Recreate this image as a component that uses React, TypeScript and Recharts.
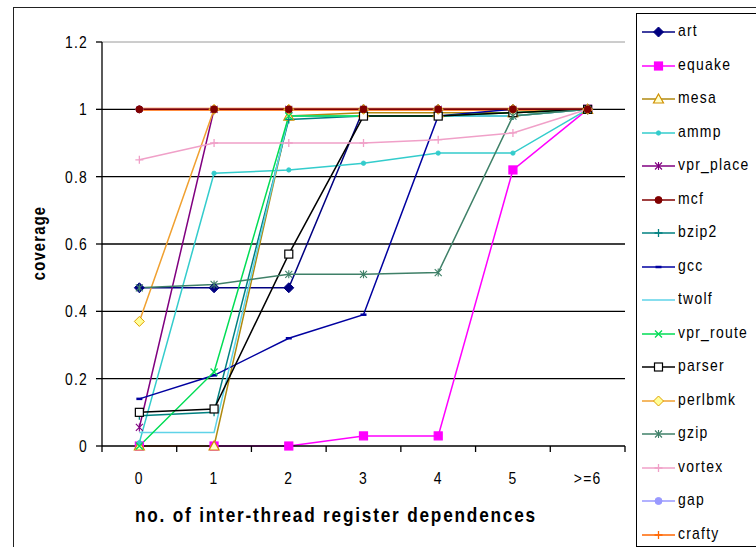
import React from 'react';
import { LineChart, Line, XAxis, YAxis, CartesianGrid, ReferenceLine, Legend } from 'recharts';

// Number of inter-thread register dependences
const categories = ['0', '1', '2', '3', '4', '5', '>=6'];

// Coverage per benchmark
const art = [0.47, 0.47, 0.47, 1.0, 1.0, 1.0, 1.0];
const equake = [0, 0, 0, 0.03, 0.03, 0.82, 1.0];
const mesa = [0, 0, 0.98, 0.99, 0.99, 0.99, 1.0];
const ammp = [0.01, 0.81, 0.82, 0.84, 0.87, 0.87, 1.0];
const vprPlace = [0.055, 1.0, 1.0, 1.0, 1.0, 1.0, 1.0];
const mcf = [1.0, 1.0, 1.0, 1.0, 1.0, 1.0, 1.0];
const bzip2 = [0.09, 0.1, 0.97, 0.98, 0.98, 0.98, 1.0];
const gcc = [0.14, 0.21, 0.32, 0.39, 0.98, 1.0, 1.0];
const twolf = [0.04, 0.04, 0.98, 0.98, 0.98, 0.98, 1.0];
const vprRoute = [0, 0.22, 0.98, 0.98, 0.98, 0.99, 1.0];
const parser = [0.1, 0.11, 0.57, 0.98, 0.98, 0.99, 1.0];
const perlbmk = [0.37, 1.0, 1.0, 1.0, 1.0, 1.0, 1.0];
const gzip = [0.47, 0.48, 0.51, 0.51, 0.515, 0.98, 1.0];
const vortex = [0.85, 0.9, 0.9, 0.9, 0.91, 0.93, 1.0];
const gap = [1.0, 1.0, 1.0, 1.0, 1.0, 1.0, 1.0];
const crafty = [1.0, 1.0, 1.0, 1.0, 1.0, 1.0, 1.0];

const yTicks = [0, 0.2, 0.4, 0.6, 0.8, 1, 1.2];
const gridValues = [0.2, 0.4, 0.6, 0.8, 1];

const xTitle = 'no. of inter-thread register dependences';
const yTitle = 'coverage';

type MarkerKind = 'diamond' | 'square' | 'triangle' | 'dot' | 'asterisk' | 'circle' | 'plus' | 'dash' | 'none' | 'cross';

interface SeriesDef {
  name: string;
  values: number[];
  color: string;
  marker: MarkerKind;
  markerStroke?: string;
  markerFill?: string;
  width?: number;
}

const series: SeriesDef[] = [
  { name: 'art', values: art, color: '#000080', marker: 'diamond', markerFill: '#000080' },
  { name: 'equake', values: equake, color: '#FF00FF', marker: 'square', markerFill: '#FF00FF' },
  { name: 'mesa', values: mesa, color: '#B08A10', marker: 'triangle', markerStroke: '#D09000', markerFill: '#FFFFCC' },
  { name: 'ammp', values: ammp, color: '#33CCCC', marker: 'dot', markerFill: '#33CCCC' },
  { name: 'vpr_place', values: vprPlace, color: '#800080', marker: 'asterisk' },
  { name: 'mcf', values: mcf, color: '#800000', marker: 'circle', markerFill: '#800000' },
  { name: 'bzip2', values: bzip2, color: '#008080', marker: 'plus' },
  { name: 'gcc', values: gcc, color: '#0000A0', marker: 'dash' },
  { name: 'twolf', values: twolf, color: '#5FD3E8', marker: 'none' },
  { name: 'vpr_route', values: vprRoute, color: '#00DD55', marker: 'cross' },
  { name: 'parser', values: parser, color: '#000000', marker: 'square', markerStroke: '#000000', markerFill: '#FFFFFF' },
  { name: 'perlbmk', values: perlbmk, color: '#F0A030', marker: 'diamond', markerStroke: '#E0A000', markerFill: '#FFFF99' },
  { name: 'gzip', values: gzip, color: '#3F8068', marker: 'asterisk' },
  { name: 'vortex', values: vortex, color: '#F0A0C8', marker: 'plus' },
  { name: 'gap', values: gap, color: '#9999FF', marker: 'circle', markerFill: '#9999FF' },
  { name: 'crafty', values: crafty, color: '#FF6600', marker: 'plus', width: 3 },
];

// Paint order: the flat 1.0 series underneath, mcf on top of them
const drawOrder = ['crafty', 'gap', 'art', 'equake', 'mesa', 'ammp', 'vpr_place', 'bzip2', 'gcc', 'twolf',
  'vpr_route', 'parser', 'perlbmk', 'gzip', 'vortex', 'mcf'];

const data = categories.map((cat, i) => {
  const row: Record<string, string | number> = { cat };
  series.forEach((s) => {
    row[s.name] = s.values[i];
  });
  return row;
});

const FONT = "'Liberation Sans', Arial, sans-serif";
const NARROW = 0.82;

// plot geometry
const CHART_W = 756;
const CHART_H = 547;
const MARGIN = { top: 42, right: 131, bottom: 41, left: 42 };
const Y_AXIS_W = 60;
const PLOT_W = CHART_W - MARGIN.left - MARGIN.right - Y_AXIS_W;
const HALF_BAND = PLOT_W / categories.length / 2;

function Marker({ kind, cx, cy, stroke, fill }: { kind: MarkerKind; cx: number; cy: number; stroke: string; fill?: string }) {
  switch (kind) {
    case 'diamond':
      return <polygon points={`${cx},${cy - 5} ${cx + 5},${cy} ${cx},${cy + 5} ${cx - 5},${cy}`} fill={fill ?? stroke} stroke={stroke} strokeWidth={1} />;
    case 'square':
      return <rect x={cx - 4} y={cy - 4} width={8} height={8} fill={fill ?? stroke} stroke={stroke} strokeWidth={1.2} />;
    case 'triangle':
      return <polygon points={`${cx},${cy - 5} ${cx + 5},${cy + 4} ${cx - 5},${cy + 4}`} fill={fill ?? 'none'} stroke={stroke} strokeWidth={1.2} />;
    case 'dot':
      return <circle cx={cx} cy={cy} r={2.2} fill={fill ?? stroke} stroke={stroke} strokeWidth={0.8} />;
    case 'circle':
      return <circle cx={cx} cy={cy} r={3.5} fill={fill ?? stroke} stroke={stroke} strokeWidth={1} />;
    case 'plus':
      return <path d={`M${cx - 4},${cy}H${cx + 4}M${cx},${cy - 4}V${cy + 4}`} stroke={stroke} strokeWidth={1.3} fill="none" />;
    case 'cross':
      return <path d={`M${cx - 3.5},${cy - 3.5}L${cx + 3.5},${cy + 3.5}M${cx - 3.5},${cy + 3.5}L${cx + 3.5},${cy - 3.5}`} stroke={stroke} strokeWidth={1.3} fill="none" />;
    case 'asterisk':
      return <path d={`M${cx - 3.5},${cy - 3.5}L${cx + 3.5},${cy + 3.5}M${cx - 3.5},${cy + 3.5}L${cx + 3.5},${cy - 3.5}M${cx},${cy - 4}V${cy + 4}`} stroke={stroke} strokeWidth={1.1} fill="none" />;
    case 'dash':
      return <path d={`M${cx - 3},${cy}H${cx + 3}`} stroke={stroke} strokeWidth={2.5} fill="none" />;
    default:
      return null;
  }
}

function XTick(props: any) {
  const { x, y, payload, index, visibleTicksCount } = props;
  const top = y - 6;
  const last = index === visibleTicksCount - 1;
  return (
    <g>
      <line x1={x - HALF_BAND} y1={top} x2={x - HALF_BAND} y2={top + 6} stroke="#000" strokeWidth={1.3} />
      {last && <line x1={x + HALF_BAND} y1={top} x2={x + HALF_BAND} y2={top + 6} stroke="#000" strokeWidth={1.3} />}
      <text
        transform={`translate(${x},${top + 38}) scale(${NARROW},1)`}
        textAnchor="middle"
        fontFamily={FONT}
        fontSize={17}
        letterSpacing={1.5}
        fill="#000"
      >
        {payload.value}
      </text>
    </g>
  );
}

function YTick(props: any) {
  const { x, y, payload } = props;
  return (
    <text
      transform={`translate(${x},${y + 6}) scale(${NARROW},1)`}
      textAnchor="end"
      fontFamily={FONT}
      fontSize={17}
      letterSpacing={1.5}
      fill="#000"
    >
      {String(payload.value)}
    </text>
  );
}

function LegendBox() {
  return (
    <div
      style={{
        position: 'relative',
        width: 140,
        height: 534,
        border: '1px solid #000',
        boxSizing: 'border-box',
        background: '#fff',
      }}
    >
      {series.map((s, i) => {
        const cy = 18 + i * 33.5;
        return (
          <div key={s.name} style={{ position: 'absolute', left: 0, top: cy - 12, height: 24, width: 140 }}>
            <svg width={42} height={24} style={{ position: 'absolute', left: 0, top: 0 }}>
              <line x1={5} y1={12} x2={38} y2={12} stroke={s.color} strokeWidth={1.5} />
              <Marker kind={s.marker} cx={21.5} cy={12} stroke={s.markerStroke ?? s.color} fill={s.markerFill} />
            </svg>
            <span
              style={{
                position: 'absolute',
                left: 41,
                top: 0,
                display: 'inline-block',
                transform: `scaleX(${NARROW})`,
                transformOrigin: '0 50%',
                fontFamily: FONT,
                fontSize: 17,
                letterSpacing: 1.5,
                lineHeight: '22px',
                color: '#000',
                whiteSpace: 'nowrap',
              }}
            >
              {s.name}
            </span>
          </div>
        );
      })}
    </div>
  );
}

export default function App() {
  const byName = new Map(series.map((s) => [s.name, s]));
  return (
    <div style={{ position: 'absolute', left: 0, top: 0, width: CHART_W, height: CHART_H, overflow: 'hidden', background: '#fff' }}>
      <div
        style={{
          position: 'absolute',
          left: 13,
          top: 7,
          width: 800,
          height: 600,
          border: '1px solid #222',
          boxSizing: 'border-box',
        }}
      />
      <div style={{ position: 'absolute', left: 0, top: 0 }}>
        <LineChart width={CHART_W} height={CHART_H} data={data} margin={MARGIN}>
          <CartesianGrid horizontal vertical={false} stroke="#000" strokeWidth={1.3} horizontalValues={gridValues} />
          <ReferenceLine y={1.2} stroke="#9a9a9a" strokeWidth={1} />
          <XAxis
            dataKey="cat"
            type="category"
            height={60}
            padding={{ left: HALF_BAND, right: HALF_BAND }}
            axisLine={{ stroke: '#000', strokeWidth: 1.3 }}
            tickLine={false}
            tickSize={6}
            tickMargin={0}
            tick={<XTick />}
            interval={0}
          />
          <YAxis
            type="number"
            domain={[0, 1.2]}
            ticks={yTicks}
            width={Y_AXIS_W}
            axisLine={{ stroke: '#000', strokeWidth: 1.3 }}
            tickLine={{ stroke: '#000', strokeWidth: 1.3 }}
            tickSize={6}
            tickMargin={8}
            tick={<YTick />}
            interval={0}
          />
          <YAxis
            yAxisId="frame"
            orientation="right"
            type="number"
            domain={[0, 1.2]}
            width={0}
            tick={false}
            tickLine={false}
            axisLine={{ stroke: '#9a9a9a', strokeWidth: 1 }}
          />
          {drawOrder.map((n) => {
            const s = byName.get(n)!;
            return (
              <Line
                key={s.name}
                type="linear"
                dataKey={s.name}
                name={s.name}
                stroke={s.color}
                strokeWidth={s.width ?? 1.5}
                isAnimationActive={false}
                activeDot={false}
                dot={(p: any) => (
                  <g key={`${s.name}-${p.index}`}>
                    <Marker kind={s.marker} cx={p.cx} cy={p.cy} stroke={s.markerStroke ?? s.color} fill={s.markerFill} />
                  </g>
                )}
              />
            );
          })}
          <Legend
            layout="vertical"
            align="center"
            verticalAlign="middle"
            wrapperStyle={{ left: 636, top: 13, width: 140, height: 534 }}
            content={() => <LegendBox />}
          />
        </LineChart>
      </div>
      <svg width={CHART_W} height={CHART_H} style={{ position: 'absolute', left: 0, top: 0, pointerEvents: 'none' }}>
        <text
          transform={`translate(537,522) scale(${NARROW},1)`}
          textAnchor="end"
          fontFamily={FONT}
          fontWeight="bold"
          fontSize={21}
          letterSpacing={2.2}
          fill="#000"
        >
          {xTitle}
        </text>
        <text
          transform={`translate(45,243) rotate(-90) scale(${NARROW},1)`}
          textAnchor="middle"
          fontFamily={FONT}
          fontWeight="bold"
          fontSize={18}
          letterSpacing={1.5}
          fill="#000"
        >
          {yTitle}
        </text>
      </svg>
    </div>
  );
}
